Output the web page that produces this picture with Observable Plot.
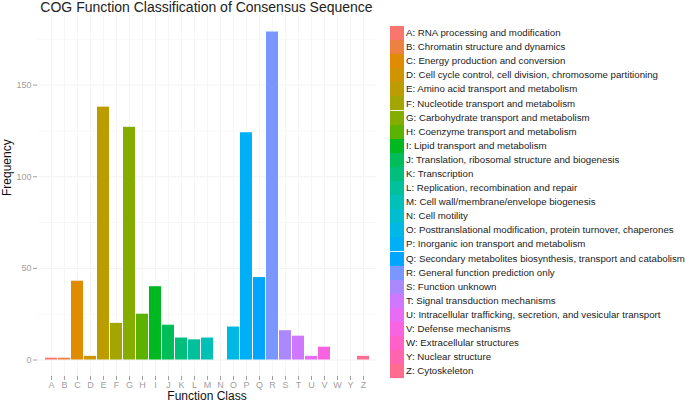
<!DOCTYPE html>
<html>
<head>
<meta charset="utf-8">
<script src="https://cdn.jsdelivr.net/npm/d3@7"></script>
<script src="https://cdn.jsdelivr.net/npm/@observablehq/plot@0.6"></script>
<style>
body { margin: 0; background: #fff; font-family: "Liberation Sans", Arial, sans-serif; }
#wrap { position: relative; width: 685px; height: 405px; overflow: hidden; background: #fff; }
#title { position: absolute; left: 37px; width: 339px; top: 0; text-align: center; font-size: 14px; line-height: 14px; color: #222; white-space: nowrap; }
#chart { position: absolute; left: 0; top: 0; }
#legend { position: absolute; left: 390px; top: 26px; width: 300px; }
.lg-swatches { font-family: "Liberation Sans", Arial, sans-serif !important; font-size: 9.7px !important; margin: 0 !important; color: #222; }
.lg-swatch { padding-bottom: 0 !important; }
.lg-swatch > svg { margin-right: 2px !important; }
.lg-swatch-label { line-height: 14px; overflow: visible !important; text-overflow: clip !important; }
</style>
</head>
<body>
<div id="wrap">
  <div id="chart"></div>
  <div id="title">COG Function Classification of Consensus Sequence</div>
  <div id="legend"></div>
</div>
<script>
const codes = ["A","B","C","D","E","F","G","H","I","J","K","L","M","N","O","P","Q","R","S","T","U","V","W","Y","Z"];
const counts = [1,1,43,2,138,20,127,25,40,19,12,11,12,0,18,124,45,179,16,13,2,7,0,0,2];
const descriptions = [
  "A: RNA processing and modification",
  "B: Chromatin structure and dynamics",
  "C: Energy production and conversion",
  "D: Cell cycle control, cell division, chromosome partitioning",
  "E: Amino acid transport and metabolism",
  "F: Nucleotide transport and metabolism",
  "G: Carbohydrate transport and metabolism",
  "H: Coenzyme transport and metabolism",
  "I: Lipid transport and metabolism",
  "J: Translation, ribosomal structure and biogenesis",
  "K: Transcription",
  "L: Replication, recombination and repair",
  "M: Cell wall/membrane/envelope biogenesis",
  "N: Cell motility",
  "O: Posttranslational modification, protein turnover, chaperones",
  "P: Inorganic ion transport and metabolism",
  "Q: Secondary metabolites biosynthesis, transport and catabolism",
  "R: General function prediction only",
  "S: Function unknown",
  "T: Signal transduction mechanisms",
  "U: Intracellular trafficking, secretion, and vesicular transport",
  "V: Defense mechanisms",
  "W: Extracellular structures",
  "Y: Nuclear structure",
  "Z: Cytoskeleton"
];
const yTicks = [0, 50, 100, 150];
const yMinor = [25, 75, 125, 175];

// ggplot2-style hue palette (polar LUV, c=100, l=65)
function hcl2hex(h, c, l) {
  const WY = 100, Wu = 0.1978398, Wv = 0.4683363;
  const hr = h * Math.PI / 180;
  const U = c * Math.cos(hr), V = c * Math.sin(hr);
  const Y = WY * (l > 7.999592 ? Math.pow((l + 16) / 116, 3) : l / 903.3);
  const u = U / (13 * l) + Wu, v = V / (13 * l) + Wv;
  const X = 9 * Y * u / (4 * v);
  const Z = -X / 3 - 5 * Y + 3 * Y / v;
  const g = t => { t = t > 0.00304 ? 1.055 * Math.pow(t, 1 / 2.4) - 0.055 : 12.92 * t; return Math.round(255 * Math.max(0, Math.min(1, t))); };
  const r = g((3.240479 * X - 1.537150 * Y - 0.498535 * Z) / WY);
  const gg = g((-0.969256 * X + 1.875992 * Y + 0.041556 * Z) / WY);
  const b = g((0.055648 * X - 0.204043 * Y + 1.057311 * Z) / WY);
  return d3.rgb(r, gg, b).formatHex();
}
const palette = codes.map((_, i) => hcl2hex(15 + i * 360 / codes.length, 100, 65));

const rows = codes.map((code, i) => ({code, count: counts[i]}));
const descOf = new Map(codes.map((c, i) => [c, descriptions[i]]));

const chart = Plot.plot({
  width: 380,
  height: 405,
  marginLeft: 37,
  marginRight: 4,
  marginTop: 15,
  marginBottom: 29,
  style: {fontFamily: "Liberation Sans, Arial, sans-serif", fontSize: "9px", background: "white", overflow: "visible"},
  x: {domain: codes, paddingInner: 0.1, paddingOuter: 0.15, label: null},
  y: {domain: [-9, 188], label: null},
  color: {domain: codes, range: palette},
  marks: [
    Plot.gridY(yMinor, {stroke: "#f8f8f8", strokeOpacity: 1}),
    Plot.gridY(yTicks, {stroke: "#f2f2f2", strokeOpacity: 1}),
    Plot.gridX({stroke: "#f6f6f6", strokeOpacity: 1}),
    Plot.barY(rows, {x: "code", y: "count", fill: "code"}),
    Plot.axisY(yTicks, {tickSize: 4, tickPadding: 2, color: "#a0a0a0", fontSize: 9, label: null}),
    Plot.axisX({tickSize: 4, tickPadding: 1.5, color: "#a0a0a0", fontSize: 9, label: null}),
    Plot.text(["Frequency"], {frameAnchor: "left", rotate: -90, dx: -30, fontSize: 12, fill: "#111"}),
    Plot.text(["Function Class"], {frameAnchor: "bottom", dy: 23.5, fontSize: 12, fill: "#111"})
  ]
});
document.getElementById("chart").appendChild(chart);

const legend = Plot.legend({
  color: {domain: codes, range: palette},
  legend: "swatches",
  columns: 1,
  swatchWidth: 14,
  swatchHeight: 14.1,
  className: "lg",
  tickFormat: d => descOf.get(d)
});
document.getElementById("legend").appendChild(legend);
</script>
</body>
</html>
